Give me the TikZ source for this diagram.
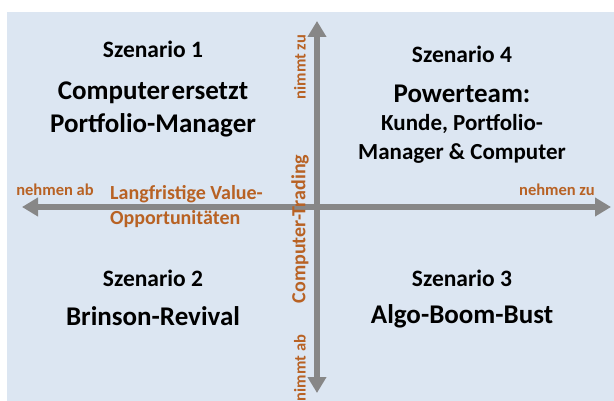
\documentclass[tikz,border=0pt]{standalone}
\usepackage{fontspec}
\setmainfont{Carlito}
\usetikzlibrary{arrows.meta}
\definecolor{bgcol}{RGB}{220,230,242}
\definecolor{axiscol}{RGB}{135,135,135}
\definecolor{labelcol}{RGB}{184,98,36}
\tikzset{
  axis/.style={line width=6pt,axiscol,-{Triangle[width=18pt,length=16pt]}},
  scen/.style={font=\bfseries\fontsize{23.5}{28}\selectfont,inner sep=0},
  big/.style={font=\bfseries\fontsize{27}{33}\selectfont,align=center,inner sep=0},
  mid/.style={font=\bfseries\fontsize{23}{29}\selectfont,align=center,inner sep=0},
  axislabel/.style={labelcol,font=\bfseries\fontsize{16.5}{18}\selectfont,inner sep=0},
  axistitle/.style={labelcol,font=\bfseries\fontsize{20}{25}\selectfont,inner sep=0}}

\begin{document}
\begin{tikzpicture}[x=1pt,y=-1pt]
  \useasboundingbox (0,0) rectangle (614,401);
  \coordinate (O) at (317,207);
  \coordinate (L) at (22,207);
  \coordinate (R) at (611,207);
  \coordinate (T) at (317,21);
  \coordinate (B) at (317,393);

  % BACKGROUND
  \fill[bgcol] (7,12) rectangle (614,401);

  % AXES
  \draw[axis] (O) -- (R);
  \draw[axis] (O) -- (L);
  \draw[axis] (O) -- (T);
  \draw[axis] (O) -- (B);

  % AXIS LABELS
  \node[axislabel] (ab) at (55,190) {nehmen ab};
  \node[axislabel] (zu) at (557,190) {nehmen zu};
  \node[axistitle,align=left,anchor=west] (value) at (110,207)
    {Langfristige Value-\\Opportunitäten};
  \node[axislabel,rotate=90] (nzu) at (300,67) {nimmt zu};
  \node[axistitle,rotate=90] (trading) at (300,229) {Computer-Trading};
  \node[axislabel,rotate=90] (nab) at (300,368) {nimmt ab};

  % SCENARIOS
  \node[scen] (s1) at (153,49) {Szenario 1};
  \node[big] (t1) at (153,109) {Computer\hspace{2pt}ersetzt\\Portfolio-Manager};
  \node[scen] (s4) at (462,54) {Szenario 4};
  \node[big] (t4) at (462,94) {Powerteam:};
  \node[mid] (k4) at (462,139) {Kunde, Portfolio-\\Manager \& Computer};
  \node[scen] (s2) at (153,278) {Szenario 2};
  \node[big] (t2) at (153,316) {Brinson-Revival};
  \node[scen] (s3) at (462,278) {Szenario 3};
  \node[big] (t3) at (462,316) {Algo-Boom-Bust};
\end{tikzpicture}
\end{document}
